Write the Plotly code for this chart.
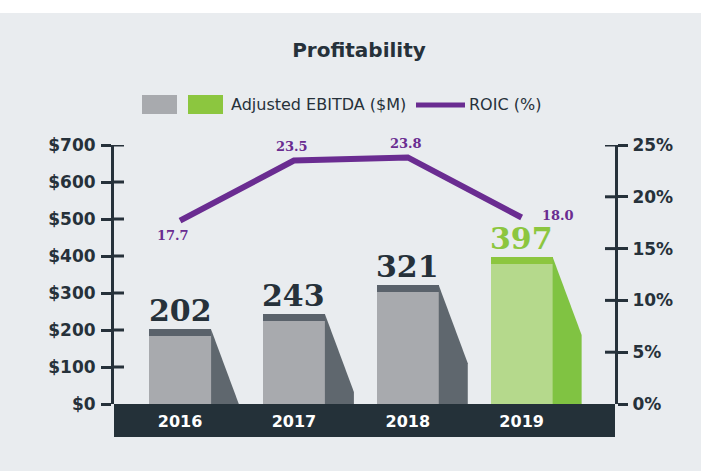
import plotly.graph_objects as go

# ---- data ----
years = ["2016", "2017", "2018", "2019"]
ebitda = [202, 243, 321, 397]          # Adjusted EBITDA ($M)
roic = [17.7, 23.5, 23.8, 18.0]        # ROIC (%)
highlight_year = "2019"
left_tickvals = [0, 100, 200, 300, 400, 500, 600, 700]
left_ticktext = ["$0", "$100", "$200", "$300", "$400", "$500", "$600", "$700"]
right_tickvals = [0, 5, 10, 15, 20, 25]
right_ticktext = ["0%", "5%", "10%", "15%", "20%", "25%"]

# ---- styling ----
BG = "#e9ecef"
DARK = "#26313a"
BAND = "#243139"
PURPLE = "#6a2c91"
GRAY_FRONT, GRAY_CAP, GRAY_SIDE = "#a8aaae", "#5a626b", "#5f676e"
GREEN_FRONT, GREEN_CAP, GREEN_SIDE = "#b5d98c", "#8cc63f", "#80c342"
SERIF = "DejaVu Serif"
SANS = "DejaVu Sans"

W, H = 701, 471
ML, MR, MT, MB = 114, 86, 145, 67
PW, PH = W - ML - MR, H - MT - MB
X_RANGE = [-0.58, 3.82]
Y_RANGE = [0, 700]
px_per_x = PW / (X_RANGE[1] - X_RANGE[0])
px_per_y = PH / (Y_RANGE[1] - Y_RANGE[0])

BW = 62 / px_per_x          # bar width (x units)
CAP = 7 / px_per_y          # cap band height (y units)
DX = 29 / px_per_x          # side shadow width
DY = 78 / px_per_y          # side shadow slope drop

xs = list(range(len(years)))
is_hi = [y == highlight_year for y in years]
front_cols = [GREEN_FRONT if h else GRAY_FRONT for h in is_hi]
cap_cols = [GREEN_CAP if h else GRAY_CAP for h in is_hi]
side_cols = [GREEN_SIDE if h else GRAY_SIDE for h in is_hi]

fig = go.Figure()

# side shadows
for x, v, c in zip(xs, ebitda, side_cols):
    xr = x + BW / 2
    if v >= DY:
        px_ = [xr, xr + DX, xr + DX, xr, xr]
        py_ = [v, v - DY, 0, 0, v]
    else:
        px_ = [xr, xr + DX * v / DY, xr, xr]
        py_ = [v, 0, 0, v]
    fig.add_trace(go.Scatter(x=px_, y=py_, mode="lines", fill="toself",
                             fillcolor=c, line=dict(width=0, color=c),
                             hoverinfo="skip", showlegend=False))

# cap (full height) and front face
fig.add_trace(go.Bar(x=xs, y=ebitda, width=BW, marker=dict(color=cap_cols, line=dict(width=0)),
                     showlegend=False, hoverinfo="skip"))
fig.add_trace(go.Bar(x=xs, y=[v - CAP for v in ebitda], width=BW,
                     marker=dict(color=front_cols, line=dict(width=0)),
                     showlegend=False, hoverinfo="skip"))

# ROIC line
fig.add_trace(go.Scatter(x=xs, y=roic, yaxis="y2", mode="lines",
                         line=dict(color=PURPLE, width=6), showlegend=False,
                         hoverinfo="skip"))

annotations = []
# value labels on bars
for x, v, h in zip(xs, ebitda, is_hi):
    annotations.append(dict(x=x, y=v, xref="x", yref="y", text=f"<b>{v}</b>",
                            showarrow=False, yanchor="bottom", yshift=-1,
                            font=dict(family=SERIF, size=30,
                                      color=GREEN_CAP if h else DARK)))
# ROIC labels
roic_offsets = [(-7, -15, "center"), (-2, 14, "center"), (-2, 14, "center"), (18, 2, "left")]
for x, r, (dx, dy, anc) in zip(xs, roic, roic_offsets):
    annotations.append(dict(x=x, y=r, xref="x", yref="y2", text=f"<b>{r:.1f}</b>",
                            showarrow=False, xanchor=anc, yanchor="middle",
                            xshift=dx, yshift=dy,
                            font=dict(family=SERIF, size=13, color=PURPLE)))


def px2paper_x(p):
    return (p - ML) / PW


def px2paper_y(p):
    return (H - MB - p) / PH


# legend text
annotations.append(dict(x=px2paper_x(229), y=px2paper_y(104), xref="paper", yref="paper",
                        text="Adjusted EBITDA ($M)", showarrow=False, xanchor="left",
                        yanchor="middle", font=dict(family=SANS, size=16, color=DARK)))
annotations.append(dict(x=px2paper_x(467), y=px2paper_y(104), xref="paper", yref="paper",
                        text="ROIC (%)", showarrow=False, xanchor="left",
                        yanchor="middle", font=dict(family=SANS, size=16, color=DARK)))

shapes = []
# white strip at top
shapes.append(dict(type="rect", xref="paper", yref="paper",
                   x0=px2paper_x(0), x1=px2paper_x(W), y0=px2paper_y(13), y1=px2paper_y(0),
                   fillcolor="white", line=dict(width=0), layer="below"))
# legend swatches
shapes.append(dict(type="rect", xref="paper", yref="paper",
                   x0=px2paper_x(142), x1=px2paper_x(177), y0=px2paper_y(114), y1=px2paper_y(95),
                   fillcolor=GRAY_FRONT, line=dict(width=0)))
shapes.append(dict(type="rect", xref="paper", yref="paper",
                   x0=px2paper_x(188), x1=px2paper_x(223), y0=px2paper_y(114), y1=px2paper_y(95),
                   fillcolor=GREEN_CAP, line=dict(width=0)))
shapes.append(dict(type="line", xref="paper", yref="paper",
                   x0=px2paper_x(416), x1=px2paper_x(465), y0=px2paper_y(105), y1=px2paper_y(105),
                   line=dict(color=PURPLE, width=5)))
# dark band under the x axis
shapes.append(dict(type="rect", xref="paper", yref="paper",
                   x0=0, x1=1, y0=px2paper_y(437), y1=0,
                   fillcolor=BAND, line=dict(width=0), layer="below"))
# inner halves of tick marks
TL = 10 / PW
for t in left_tickvals[1:]:
    shapes.append(dict(type="line", xref="paper", yref="y", x0=0, x1=TL, y0=t, y1=t,
                       line=dict(color=DARK, width=3)))
for t in right_tickvals[1:]:
    shapes.append(dict(type="line", xref="paper", yref="y2", x0=1 - TL, x1=1, y0=t, y1=t,
                       line=dict(color=DARK, width=3)))

fig.update_layout(
    width=W, height=H,
    margin=dict(l=ML, r=MR, t=MT, b=MB, pad=0),
    paper_bgcolor=BG, plot_bgcolor=BG,
    barmode="overlay", bargap=0,
    title=dict(text="<b>Profitability</b>", x=359 / W, xanchor="center",
               y=1 - 50 / H, yanchor="middle",
               font=dict(family=SANS, size=20, color=DARK)),
    xaxis=dict(range=X_RANGE, tickvals=xs, ticktext=years, showgrid=False,
               zeroline=False, showline=False, ticks="",
               tickfont=dict(family=SANS, size=16, color="white", weight="bold"),
               ticklabelstandoff=6, fixedrange=True),
    yaxis=dict(range=Y_RANGE, tickvals=left_tickvals, ticktext=left_ticktext,
               showgrid=False, zeroline=False, showline=True, linecolor=DARK, linewidth=3,
               ticks="outside", ticklen=10, tickwidth=3, tickcolor=DARK,
               tickfont=dict(family=SANS, size=17, color=DARK, weight="bold"),
               ticklabelstandoff=2),
    yaxis2=dict(range=[0, 25], tickvals=right_tickvals, ticktext=right_ticktext,
                overlaying="y", side="right", showgrid=False, zeroline=False,
                showline=True, linecolor=DARK, linewidth=3,
                ticks="outside", ticklen=10, tickwidth=3, tickcolor=DARK,
                tickfont=dict(family=SANS, size=17, color=DARK, weight="bold"),
                ticklabelstandoff=1),
    annotations=annotations,
    shapes=shapes,
)

fig.write_html("out.html", config={"displayModeBar": False},
               post_script="document.body.style.margin='0';document.body.style.overflow='hidden';")
